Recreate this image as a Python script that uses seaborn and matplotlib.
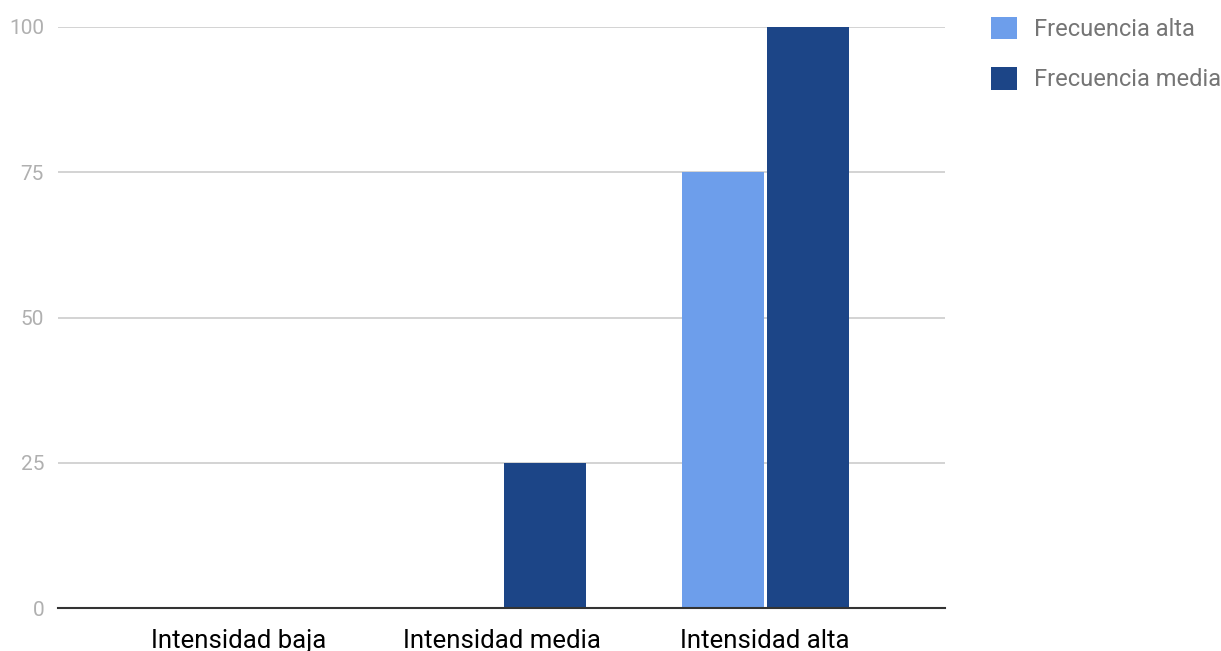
import matplotlib
matplotlib.use("Agg")
import matplotlib.pyplot as plt
import seaborn as sns
import pandas as pd
from matplotlib.patches import Patch

categories = ["Intensidad baja", "Intensidad media", "Intensidad alta"]
series_names = ["Frecuencia alta", "Frecuencia media"]
frecuencia_alta = [0, 0, 75]
frecuencia_media = [0, 25, 100]
y_ticks = [0, 25, 50, 75, 100]
colors = ["#6d9eeb", "#1c4587"]

df = pd.DataFrame({
    "cat": categories * 2,
    "serie": [series_names[0]] * 3 + [series_names[1]] * 3,
    "val": frecuencia_alta + frecuencia_media,
})

sns.set_theme(style="white")
plt.rcParams["font.family"] = ["Roboto", "DejaVu Sans"]

fig = plt.figure(figsize=(12.21, 6.51), dpi=100)
ax = fig.add_axes([58/1221, 1-608/651, (945-58)/1221, (608-27)/651])

sns.barplot(data=df, x="cat", y="val", hue="serie", palette=colors,
            width=0.646, gap=0.035, linewidth=0, ax=ax, legend=False,
            saturation=1, errorbar=None)

ax.set_xlim(-0.688, 2.684)
ax.set_ylim(0, 100)
ax.set_yticks(y_ticks)
ax.set_yticklabels([str(t) for t in y_ticks])
ax.yaxis.grid(True, color="#cccccc", linewidth=1.2)
ax.set_axisbelow(True)
for s in ["top", "right", "left"]:
    ax.spines[s].set_visible(False)
ax.spines["bottom"].set_color("#333333")
ax.spines["bottom"].set_linewidth(1.5)
ax.spines["bottom"].set_zorder(5)
ax.tick_params(axis="y", length=0, pad=10, labelsize=15, labelcolor="#b0b0b0")
ax.tick_params(axis="x", length=0, pad=15, labelsize=18.5, labelcolor="#000000")
ax.set_xlabel("")
ax.set_ylabel("")

handles = [Patch(facecolor=c, edgecolor="none") for c in colors]
fig.legend(handles, series_names, loc="upper left",
           bbox_to_anchor=(986/1221, 1-12/651), frameon=False,
           fontsize=17, labelcolor="#757575", handlelength=1.1,
           handleheight=1.1, handletextpad=0.72, labelspacing=1.1,
           borderaxespad=0, borderpad=0.2)

fig.savefig("out.png", dpi=100)
